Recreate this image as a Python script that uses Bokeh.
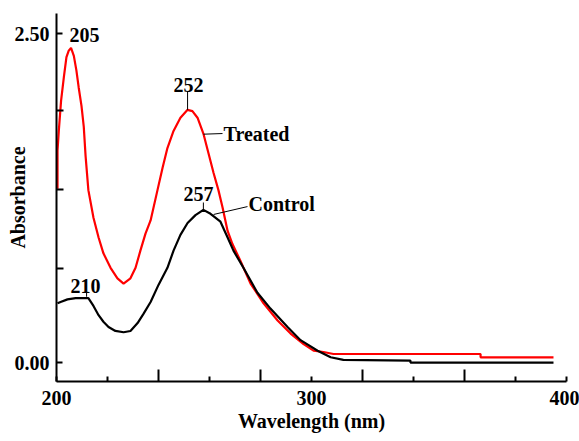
import math
from bokeh.plotting import figure
from bokeh.models import Range1d, FixedTicker, CustomJSTickFormatter, Label
from bokeh.embed import file_html
from bokeh.resources import INLINE

# ---- data ----
treated_wl = [200.4, 200.4, 200.9, 201.8, 202.9, 203.9, 204.8, 205.7, 206.8, 207.8,
              208.7, 209.8, 210.7, 211.4, 212.5, 214.5, 216.5, 218.4, 221.2, 223.9,
              226.3, 229.0, 231.0, 232.9, 234.9, 236.9, 239.6, 241.6, 243.5, 245.9,
              248.6, 251.4, 253.3, 255.3, 257.6, 259.6, 261.6, 263.5, 265.1, 267.1,
              269.0, 272.2, 276.1, 281.2, 286.7, 291.8, 296.9, 300.8, 304.7, 308.6,
              366.3, 366.3, 394.9]
treated_abs = [1.32, 1.61, 1.76, 1.99, 2.17, 2.32, 2.37, 2.39, 2.33, 2.22,
               2.09, 1.95, 1.79, 1.57, 1.31, 1.10, 0.95, 0.83, 0.72, 0.64,
               0.60, 0.64, 0.72, 0.85, 0.98, 1.08, 1.31, 1.48, 1.63, 1.76,
               1.86, 1.92, 1.91, 1.86, 1.74, 1.59, 1.44, 1.31, 1.18, 1.00,
               0.90, 0.77, 0.60, 0.45, 0.32, 0.22, 0.14, 0.09, 0.08, 0.065,
               0.065, 0.04, 0.04]

control_wl = [200.4, 201.6, 204.3, 207.5, 210.2, 212.5, 214.5, 216.5, 218.4, 220.4,
              223.1, 226.3, 229.0, 231.8, 234.1, 236.9, 240.0, 243.5, 245.9, 248.6,
              251.4, 254.5, 257.6, 260.4, 264.3, 267.1, 269.4, 273.3, 278.8, 283.9,
              290.6, 295.7, 302.4, 307.5, 312.5, 338.8, 338.8, 394.9]
control_abs = [0.45, 0.46, 0.48, 0.49, 0.49, 0.49, 0.43, 0.36, 0.31, 0.27,
               0.24, 0.23, 0.24, 0.30, 0.37, 0.46, 0.59, 0.72, 0.85, 0.97,
               1.06, 1.12, 1.16, 1.13, 1.07, 0.95, 0.85, 0.72, 0.53, 0.41,
               0.27, 0.17, 0.09, 0.04, 0.02, 0.015, 0.0, 0.0]

peak_labels = ["205", "252", "257", "210"]
series_labels = ["Treated", "Control"]
x_tick_labels = ["200", "300", "400"]
x_tick_values = [200, 300, 400]
y_tick_labels = ["2.50", "0.00"]
y_tick_values = [2.5, 0.0]
x_title = "Wavelength (nm)"
y_title = "Absorbance"

FONT = "Liberation Serif"
FS = "20px"

p = figure(width=579, height=441, output_backend="svg", toolbar_location=None,
           x_range=Range1d(200, 400), y_range=Range1d(-0.144, 2.652),
           min_border_left=56, min_border_right=13, min_border_top=13,
           min_border_bottom=60)
p.outline_line_color = None
p.xgrid.visible = False
p.ygrid.visible = False
p.background_fill_color = "white"
p.border_fill_color = "white"

fmt_code = "const i = vals.indexOf(tick); return i >= 0 ? labs[i] : '';"

xa = p.xaxis[0]
xa.ticker = FixedTicker(ticks=[200, 220, 260, 300, 340, 380, 400],
                        minor_ticks=[240, 280, 320, 360])
xa.formatter = CustomJSTickFormatter(args=dict(vals=x_tick_values, labs=x_tick_labels), code=fmt_code)
xa.axis_line_width = 2
xa.major_tick_line_width = 2
xa.minor_tick_line_width = 2
xa.major_tick_in = 5
xa.major_tick_out = 0
xa.minor_tick_in = 12
xa.minor_tick_out = 0
xa.major_label_standoff = 9
xa.major_label_text_font = FONT
xa.major_label_text_font_size = FS
xa.major_label_text_font_style = "bold"
xa.major_label_text_color = "black"
xa.axis_label = x_title
xa.axis_label_text_font = FONT
xa.axis_label_text_font_size = FS
xa.axis_label_text_font_style = "bold"
xa.axis_label_text_color = "black"
xa.axis_label_standoff = 2

ya = p.yaxis[0]
ya.ticker = FixedTicker(ticks=y_tick_values, minor_ticks=[0.714, 1.315, 1.915])
ya.formatter = CustomJSTickFormatter(args=dict(vals=y_tick_values, labs=y_tick_labels), code=fmt_code)
ya.axis_line_width = 2
ya.major_tick_line_width = 2
ya.minor_tick_line_width = 2
ya.major_tick_in = 6
ya.major_tick_out = 0
ya.minor_tick_in = 7
ya.minor_tick_out = 0
ya.major_label_standoff = 7
ya.major_label_text_font = FONT
ya.major_label_text_font_size = FS
ya.major_label_text_font_style = "bold"
ya.major_label_text_color = "black"
ya.axis_label = y_title
ya.axis_label_text_font = FONT
ya.axis_label_text_font_size = FS
ya.axis_label_text_font_style = "bold"
ya.axis_label_text_color = "black"
ya.axis_label_standoff = -17

# curves
p.line(treated_wl, treated_abs, line_color="#ff0000", line_width=2.2)
p.line(control_wl, control_abs, line_color="black", line_width=2.2)

def lab(x, y, text, align="center"):
    p.add_layout(Label(x=x, y=y, text=text, text_font=FONT, text_font_size=FS,
                       text_font_style="bold", text_color="black",
                       text_align=align, text_baseline="middle"))

# peak annotations
t_peak2 = max(range(len(treated_wl)), key=lambda i: treated_abs[i] if treated_wl[i] > 240 else -1)
c_peak = max(range(len(control_wl)), key=lambda i: control_abs[i] if control_wl[i] > 240 else -1)

lab(211.0, 2.485, peak_labels[0])
lab(251.8, 2.112, peak_labels[1])
p.segment(x0=[treated_wl[t_peak2]], y0=[treated_abs[t_peak2]], x1=[treated_wl[t_peak2]], y1=[2.06],
          line_color="black", line_width=1)
lab(255.7, 1.277, peak_labels[2])
p.segment(x0=[control_wl[c_peak]], y0=[control_abs[c_peak]], x1=[control_wl[c_peak]], y1=[1.216],
          line_color="black", line_width=1)
lab(211.4, 0.585, peak_labels[3])
p.segment(x0=[211.8], y0=[0.50], x1=[211.8], y1=[0.54], line_color="black", line_width=1)

# series labels with leaders
lab(265.5, 1.740, series_labels[0], align="left")
p.segment(x0=[257.6], y0=[1.735], x1=[265.1], y1=[1.740], line_color="black", line_width=1)
lab(275.3, 1.201, series_labels[1], align="left")
p.segment(x0=[261.6], y0=[1.125], x1=[274.9], y1=[1.185], line_color="black", line_width=1)

open("out.html", "w").write(file_html(p, INLINE))
